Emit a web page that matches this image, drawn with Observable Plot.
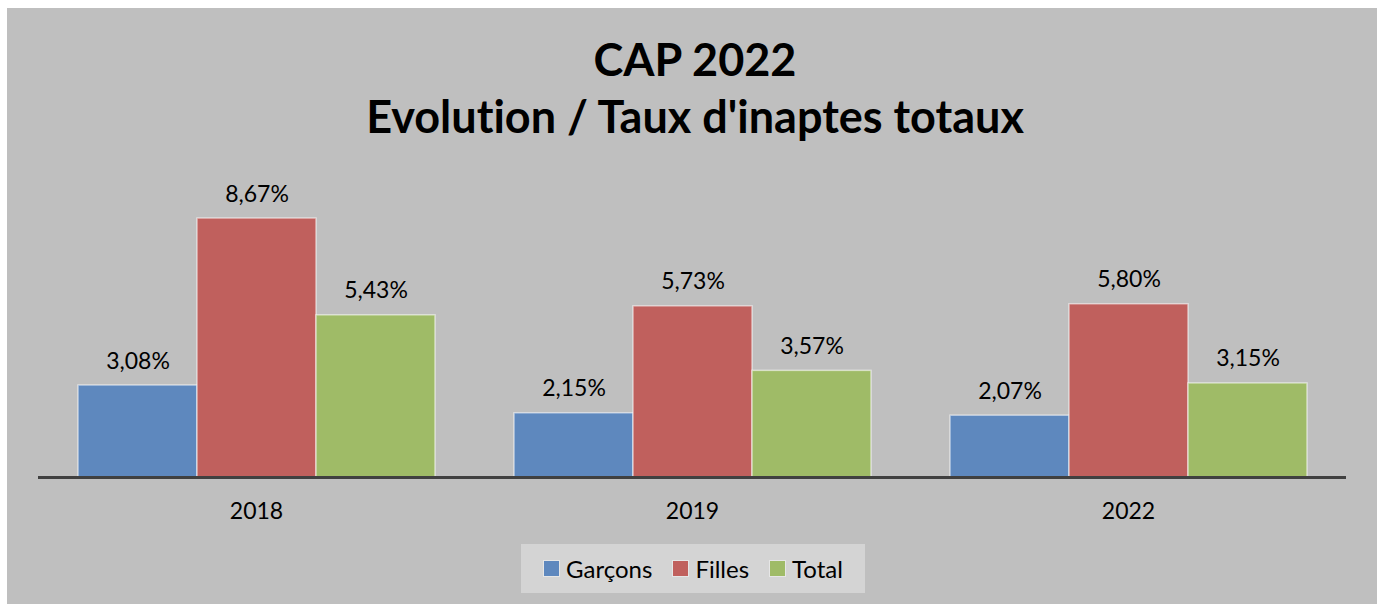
<!DOCTYPE html>
<html>
<head>
<meta charset="utf-8">
<script src="https://cdn.jsdelivr.net/npm/d3@7"></script>
<script src="https://cdn.jsdelivr.net/npm/@observablehq/plot@0.6"></script>
<style>
  html, body { margin: 0; padding: 0; background: #ffffff; }
  body { width: 1382px; height: 604px; overflow: hidden; position: relative; font-family: Lato, "Open Sans", sans-serif; font-variant-ligatures: none; }
  #frame { position: absolute; left: 7px; top: 8px; width: 1370px; height: 596px; background: #bfbfbf; }
  #title { position: absolute; left: 3px; top: 23px; width: 1370px; text-align: center; font-weight: bold; font-size: 45px; line-height: 57px; color: #000; }
  #chart { position: absolute; left: -1px; top: 150px; }
  #legend { position: absolute; left: 514px; top: 536px; width: 344px; height: 49px; background: #d4d4d4; display: flex; align-items: center; justify-content: center; font-size: 24px; color: #000; }
  .item { display: flex; align-items: center; margin: 0 10px; }
  .sw { width: 15px; height: 15px; border: 1px solid #e6e6e6; margin-right: 6px; }
</style>
</head>
<body>
<div id="frame">
  <div id="title">CAP 2022<br>Evolution / Taux d'inaptes totaux</div>
  <div id="chart"></div>
  <div id="legend"></div>
</div>
<script>
const years = ["2018", "2019", "2022"];
const series = ["Garçons", "Filles", "Total"];
const garcons = [3.08, 2.15, 2.07];
const filles = [8.67, 5.73, 5.80];
const total = [5.43, 3.57, 3.15];
const colors = ["#5e88be", "#c0605d", "#9fbb67"];

const seriesValues = [garcons, filles, total];
const rows = [];
years.forEach((yr, i) => {
  series.forEach((s, j) => {
    rows.push({year: yr, series: s, value: seriesValues[j][i]});
  });
});
const fmt = v => v.toFixed(2).replace(".", ",") + "%";

const chart = Plot.plot({
  width: 1370,
  height: 390,
  marginLeft: 31,
  marginRight: 30,
  marginTop: 20.3,
  marginBottom: 71,
  style: {background: "transparent", fontFamily: "Lato, 'Open Sans', sans-serif", fontSize: "23px", color: "#000", fontVariantLigatures: "none"},
  fx: {domain: years, padding: 0, label: null},
  x: {domain: series, paddingInner: 0, paddingOuter: 0.328, axis: null},
  y: {domain: [0, 10], axis: null},
  color: {domain: series, range: colors},
  marks: [
    Plot.barY(rows, {fx: "year", x: "series", y: "value", fill: "series", stroke: "#ffffff", strokeOpacity: 0.55, strokeWidth: 1.5}),
    Plot.ruleY([0], {stroke: "#404040", strokeWidth: 3}),
    Plot.text(rows, {fx: "year", x: "series", y: "value", text: d => fmt(d.value), dy: -17, lineAnchor: "bottom", fontSize: 23, fill: "#000"}),
    Plot.axisFx({anchor: "bottom", tickSize: 0, tickPadding: 25, fontSize: 23, label: null, fill: "#000"})
  ]
});
document.getElementById("chart").appendChild(chart);

const legend = document.getElementById("legend");
series.forEach((s, j) => {
  const item = document.createElement("div");
  item.className = "item";
  const sw = document.createElement("div");
  sw.className = "sw";
  sw.style.background = colors[j];
  const t = document.createElement("span");
  t.textContent = s;
  item.appendChild(sw);
  item.appendChild(t);
  legend.appendChild(item);
});
</script>
</body>
</html>
